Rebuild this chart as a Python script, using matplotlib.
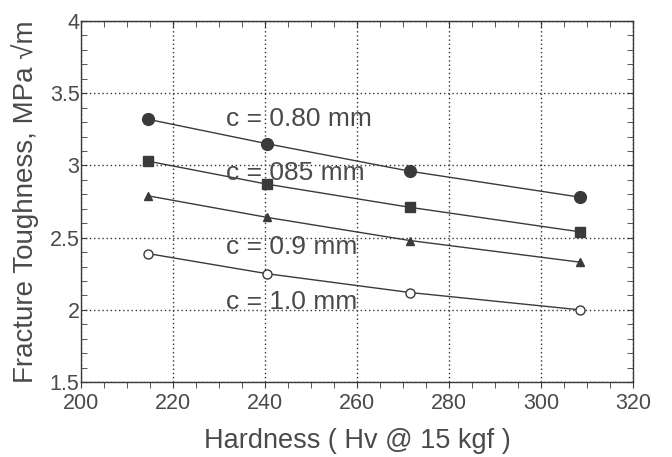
import matplotlib.pyplot as plt
from matplotlib.ticker import MultipleLocator

plt.rcParams['font.family'] = ['Liberation Sans', 'DejaVu Sans']

# hardness values (Hv @ 15 kgf)
hardness = [214.5, 240.5, 271.5, 308.5]

# fracture toughness for each crack size
k_080 = [3.32, 3.15, 2.96, 2.78]
k_085 = [3.03, 2.87, 2.71, 2.54]
k_090 = [2.79, 2.64, 2.48, 2.33]
k_100 = [2.39, 2.25, 2.12, 2.00]

labels = ['c = 0.80 mm', 'c = 085 mm', 'c = 0.9 mm', 'c = 1.0 mm']
label_y = [3.32, 2.95, 2.435, 2.055]

txt = '#4a4a4a'
ink = '#3a3a3a'

fig = plt.figure(figsize=(6.72, 4.57), dpi=100)
ax = fig.add_axes([0.1205, 0.164, 0.8215, 0.79])

ax.plot(hardness, k_080, '-o', color=ink, lw=1, ms=8.5)
ax.plot(hardness, k_085, '-s', color=ink, lw=1, ms=7.5)
ax.plot(hardness, k_090, '-^', color=ink, lw=1, ms=5.5)
ax.plot(hardness, k_100, '-o', color=ink, lw=1, ms=6.5, mfc='white', mew=1)

for lab, yy in zip(labels, label_y):
    ax.text(231.5, yy, lab, fontsize=19, color=txt, va='center', ha='left')

ax.set_xlim(200, 320)
ax.set_ylim(1.5, 4)
ax.xaxis.set_major_locator(MultipleLocator(20))
ax.xaxis.set_minor_locator(MultipleLocator(5))
ax.yaxis.set_minor_locator(MultipleLocator(0.1))
ax.set_yticks([1.5, 2, 2.5, 3, 3.5, 4])
ax.set_yticklabels(['1.5', '2', '2.5', '3', '3.5', '4'])

ax.grid(True, which='major', ls=(0, (1, 2)), color='#333333', lw=1)
ax.tick_params(axis='x', which='both', direction='out', length=4,
               color=ink, labelsize=15.5, labelcolor=txt, pad=4)
ax.tick_params(axis='y', which='both', direction='in', right=True, length=4,
               color=ink, labelsize=15.5, labelcolor=txt, pad=1)

# top ticks point inward, bottom ones outward
top = ax.secondary_xaxis('top')
top.xaxis.set_major_locator(MultipleLocator(20))
top.xaxis.set_minor_locator(MultipleLocator(5))
top.tick_params(which='both', direction='in', length=4, color=ink, labeltop=False)
top.spines['top'].set_color(ink)

for s in ax.spines.values():
    s.set_color(ink)
    s.set_linewidth(1)

ax.set_xlabel('Hardness ( Hv @ 15 kgf )', fontsize=19.5, color=txt, labelpad=10)
ax.set_ylabel('Fracture Toughness, MPa \u221am', fontsize=20, color=txt, labelpad=8)

fig.savefig('out.png', dpi=100)
